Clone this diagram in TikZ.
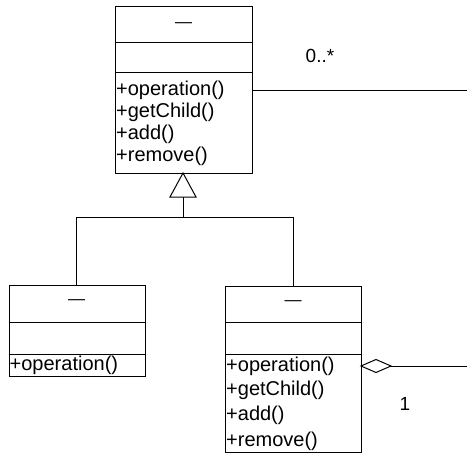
\documentclass[tikz,border=0pt]{standalone}
\usepackage{fontspec}
\setmainfont{Liberation Sans}
\begin{document}
\begin{tikzpicture}[x=1pt,y=-1pt,
  box/.style={draw,line width=1pt,minimum width=#1,anchor=north west,inner sep=0pt},
  txt/.style={anchor=west,inner sep=0pt,font=\fontsize{20}{22}\selectfont},
  nm/.style={inner sep=0pt,font=\fontsize{17}{20}\selectfont},
  lab/.style={inner sep=0pt,font=\fontsize{19}{20}\selectfont},
  ln/.style={line width=1pt}]
\useasboundingbox (0,0) rectangle (467,455);
% top class
\node[box=137pt,minimum height=167pt] (top) at (115,6) {};
\draw[ln] (115,42.5) -- (252,42.5);
\draw[ln] (115,72.5) -- (252,72.5);
\node[nm] (topn) at (183.5,25) {---};
\node[txt] (t1) at (116,90) {+operation()};
\node[txt] (t2) at (116,112) {+getChild()};
\node[txt] (t3) at (116,134) {+add()};
\node[txt] (t4) at (116,156) {+remove()};
% left leaf
\node[box=136pt,minimum height=91pt] (lft) at (8.5,285) {};
\draw[ln] (8.5,322.5) -- (144.5,322.5);
\draw[ln] (8.5,354) -- (144.5,354);
\node[nm] (lftn) at (76.5,302) {---};
\node[txt] (l1) at (9.5,365.5) {+operation()};
% right composite
\node[box=136pt,minimum height=166pt] (rgt) at (225,286) {};
\draw[ln] (225,322) -- (361,322);
\draw[ln] (225,354) -- (361,354);
\node[nm] (rgtn) at (293,303) {---};
\node[txt] (r1) at (226,366) {+operation()};
\node[txt] (r2) at (226,390) {+getChild()};
\node[txt] (r3) at (226,415) {+add()};
\node[txt] (r4) at (226,441) {+remove()};
% generalization
\coordinate (apex) at (183,173);
\coordinate (tb) at (183,197);
\coordinate (jn) at (183,217);
\draw[ln] (apex) -- (170,197) -- (196,197) -- cycle;
\draw[ln] (tb) -- (jn);
\draw[ln] (lft.north -| 76.5,0) |- (jn);
\draw[ln] (jn) -| (293,286);
% association
\coordinate (e1) at (467,90);
\draw[ln] (252,90) -- (e1);
\node[lab] (m1) at (320,56) {0..*};
% aggregation
\coordinate (e2) at (467,366);
\draw[ln] (361,366) -- (376,359.5) -- (391,366) -- (376,372.5) -- cycle;
\draw[ln] (391,366) -- (e2);
\node[lab] (m2) at (405,404) {1};
\end{tikzpicture}
\end{document}
